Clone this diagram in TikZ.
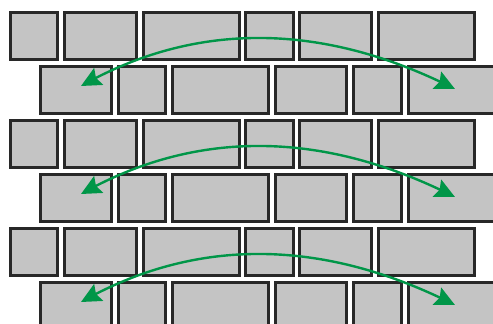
\documentclass[tikz,border=0pt]{standalone}
\usetikzlibrary{arrows.meta,bending}
\definecolor{brickgray}{RGB}{196,196,196}
\definecolor{mortar}{RGB}{40,40,40}
\definecolor{arcgreen}{RGB}{0,150,72}
\begin{document}
\begin{tikzpicture}[
                x=1pt, y=-1pt,
                brick/.style={draw=mortar, fill=brickgray, line width=3pt,
                              inner sep=0pt, minimum height=47pt},
                swap/.style={arcgreen, line width=2.4pt,
                             {Stealth[length=20pt,width=19pt,inset=3pt,flex]}-{Stealth[length=20pt,width=19pt,inset=3pt,flex]}}
                ]
                \useasboundingbox (0,0) rectangle (493,324);
                \clip (0,0) rectangle (493,324);
                % three pairs of staggered courses
                \foreach \r in {0,1,2} {
                    \foreach \a/\b [count=\i] in {10/57,64/136,143/239,245/293,299/371,378/474}
                        \node[brick, minimum width={(\b-\a)*1pt}] (a\r\i) at ({(\a+\b)/2},{35.5+108*\r}) {};
                    \foreach \a/\b [count=\i] in {40/111,118/165,172/268,275/346,353/401,408/500}
                        \node[brick, minimum width={(\b-\a)*1pt}] (b\r\i) at ({(\a+\b)/2},{89.5+108*\r}) {};
                    \coordinate (l\r) at (81,{86+108*\r});
                    \coordinate (r\r) at (455,{89+108*\r});
                    % swap first and last brick of the lower course
                    \draw[swap] (l\r) .. controls +(118,-67) and +(-128,-65) .. (r\r);
                }
            \end{tikzpicture}
\end{document}
